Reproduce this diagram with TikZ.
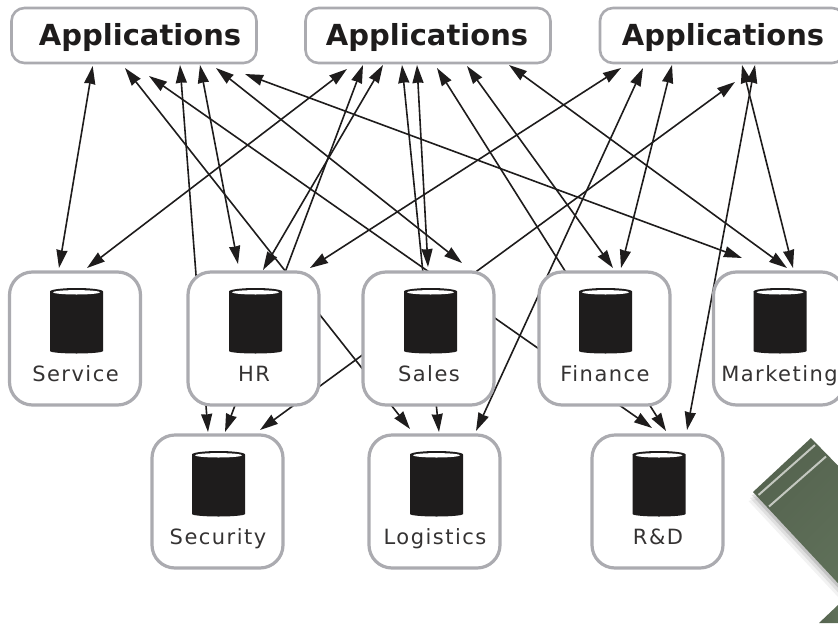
\documentclass[tikz,border=0pt]{standalone}
\usepackage{fontspec}
\usetikzlibrary{arrows.meta,backgrounds}
\setmainfont{DejaVu Sans}
\newfontfamily\lblfont[LetterSpace=7]{DejaVu Sans}
\definecolor{ink}{HTML}{1E1C1C}
\definecolor{rim}{HTML}{ABABB0}
\definecolor{gdark}{HTML}{55634F}
\definecolor{glight}{HTML}{5F7059}
\definecolor{gstripe}{HTML}{C4C8C0}
\tikzset{
  appbox/.style={draw=rim,line width=2.6pt,fill=white,rounded corners=13pt,minimum width=245pt,minimum height=55pt,inner sep=0pt},
  dbbox/.style={draw=rim,line width=3.2pt,fill=white,rounded corners=23pt,minimum width=131pt,minimum height=133pt,inner sep=0pt},
  apptext/.style={font=\fontsize{29}{30}\selectfont\bfseries,text=ink,inner sep=0pt,anchor=base},
  dbtext/.style={font=\fontsize{21}{24}\selectfont\lblfont,text=ink!90,inner sep=0pt,anchor=base},
  link/.style={draw=ink,line width=1.6pt,{Stealth[length=18pt,width=11pt,inset=0.5pt]}-{Stealth[length=18pt,width=11pt,inset=0.5pt]}}
}
\newcommand{\dbunit}[5]{% name, cx, cy, cylinder left, label
  \node[dbbox] (#1) at (#2,#3) {};
  \fill[ink] (#4,#3-47) -- (#4+53,#3-47) -- (#4+53,#3+12.5) arc[start angle=0,end angle=-180,x radius=26.5,y radius=-2.5] -- cycle;
  \fill[ink] (#4+26.5,#3-47) ellipse[x radius=26.5,y radius=3.5];
  \fill[white] (#4+26.5,#3-46.2) ellipse[x radius=23.5,y radius=2.2];
  \node[dbtext] (#1label) at (#2+0.5,#3+43) {#5};
}
\newcommand{\conn}[6]{\draw[link] ([shift={(#2,#3)}]#1.center) -- ([shift={(#5,#6)}]#4.center);}
\begin{document}
\begin{tikzpicture}[x=1pt,y=-1pt]
\useasboundingbox (0,0) rectangle (838,627);
\clip (0,0) rectangle (838,627);
\node[appbox] (app1) at (134,35.5) {};
\node[appbox] (app2) at (428,35.5) {};
\node[appbox] (app3) at (722.5,35.5) {};
\node[apptext] (app1t) at (140,45) {Applications};
\node[apptext] (app2t) at (427,45) {Applications};
\node[apptext] (app3t) at (723,45) {Applications};
\dbunit{service}{75}{338.5}{50}{Service}
\dbunit{hr}{253.5}{338.5}{229}{HR}
\dbunit{sales}{428.5}{338.5}{404}{Sales}
\dbunit{finance}{604.5}{338.5}{579}{Finance}
\dbunit{marketing}{779}{338.5}{753.5}{Marketing}
\dbunit{security}{217.5}{501.5}{192}{Security}
\dbunit{logistics}{434.5}{501.5}{410}{Logistics}
\dbunit{rd}{657.5}{501.5}{632.5}{R\&D}
\begin{pgfonlayer}{background}
\conn{app1}{-41.3}{30.5}{service}{-16}{-70.5}
\conn{app1}{-9}{32.5}{logistics}{-24.5}{-72.5}
\conn{app1}{15}{40.5}{rd}{-5.5}{-73.5}
\conn{app1}{46}{29.5}{security}{-9.5}{-69.5}
\conn{app1}{66}{29.5}{hr}{-15.5}{-74.5}
\conn{app1}{82}{32.5}{sales}{33.5}{-75.5}
\conn{app1}{111}{38.5}{marketing}{-37}{-80.5}
\conn{app2}{-81}{33.5}{service}{12}{-70.5}
\conn{app2}{-45}{29.5}{hr}{9.5}{-68.5}
\conn{app2}{-65}{29.5}{security}{7.5}{-69.5}
\conn{app2}{-26}{29.5}{logistics}{4.5}{-69.5}
\conn{app2}{-11}{29.5}{sales}{-0.5}{-71.5}
\conn{app2}{9}{32.5}{rd}{8.5}{-70.5}
\conn{app2}{39}{30.5}{finance}{8.5}{-70.5}
\conn{app2}{81}{29.5}{marketing}{8}{-70.5}
\conn{app3}{-101.5}{32.5}{hr}{56.5}{-70.5}
\conn{app3}{-79.5}{32.5}{logistics}{41.5}{-70.5}
\conn{app3}{-50.5}{29.5}{finance}{16.5}{-70.5}
\conn{app3}{12.5}{46.5}{security}{42.5}{-71.5}
\conn{app3}{19.5}{29.5}{marketing}{14}{-70.5}
\conn{app3}{32.5}{29.5}{rd}{29.5}{-71.5}
% green corner decoration
\foreach \o/\a in {9/0.05,6/0.08,3/0.12}{
  \fill[black,opacity=\a] (753-\o*0.5,492+\o) -- (850-\o*0.5,596+\o) -- (850,470) -- cycle;
}
\shade[left color=gdark,right color=glight,shading angle=45] (753,492) -- (811,438) -- (850,478) -- (850,596) -- cycle;
\shade[left color=gdark,right color=glight] (819,623) -- (838,605) -- (838,623) -- cycle;
\draw[line width=2pt,color=gstripe] (758.5,495) -- (815,445);
\draw[line width=2pt,color=gstripe] (769,506.5) -- (826,456.5);
\end{pgfonlayer}
\end{tikzpicture}
\end{document}
